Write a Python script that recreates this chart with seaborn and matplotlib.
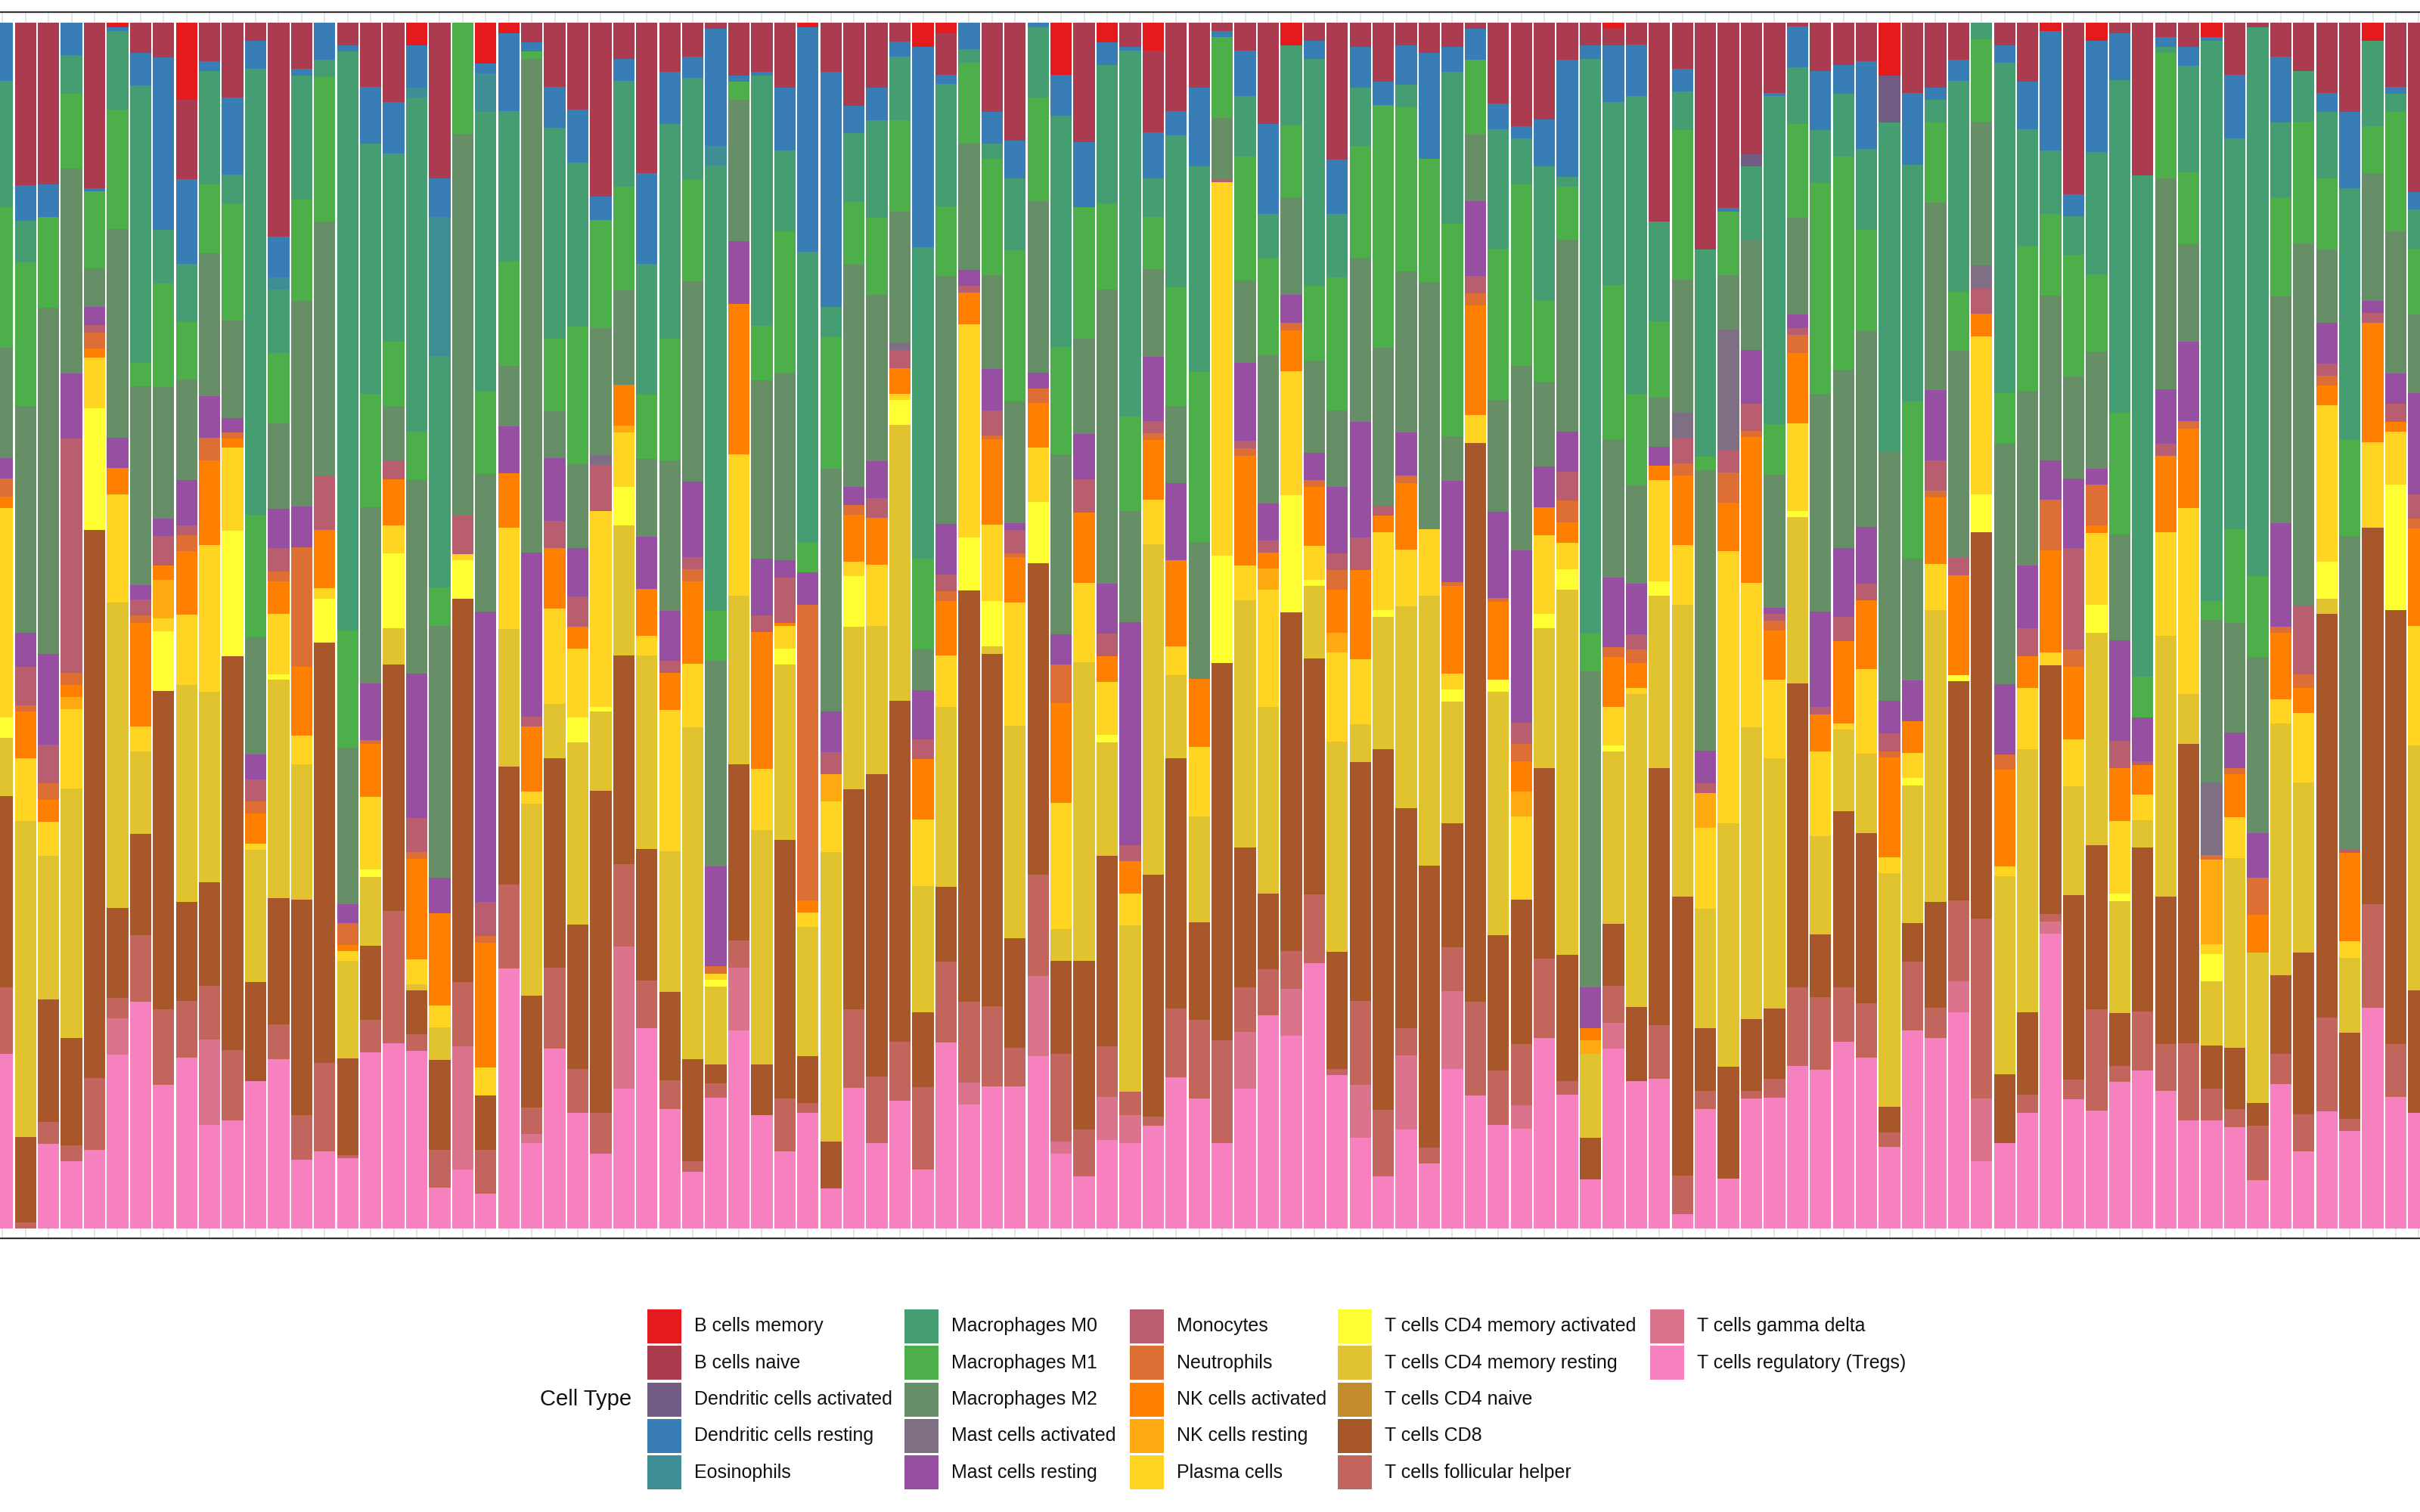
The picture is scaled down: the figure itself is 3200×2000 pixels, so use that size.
import numpy as np
import pandas as pd
import matplotlib
matplotlib.use("Agg")
import matplotlib.pyplot as plt
from matplotlib.patches import Rectangle
import seaborn as sns

# ---------------- data (percent per sample) ----------------
cell_types = [
    "B cells memory", "B cells naive", "Dendritic cells activated",
    "Dendritic cells resting", "Eosinophils", "Macrophages M0",
    "Macrophages M1", "Macrophages M2", "Mast cells activated",
    "Mast cells resting", "Monocytes", "Neutrophils", "NK cells activated",
    "NK cells resting", "Plasma cells", "T cells CD4 memory activated",
    "T cells CD4 memory resting", "T cells CD4 naive", "T cells CD8",
    "T cells follicular helper", "T cells gamma delta",
    "T cells regulatory (Tregs)",
]

b_cells_memory = [
    0, 0, 0, 0, 0, 0.4, 0, 0, 6.4, 0,
    0, 0, 0, 0, 0, 0, 0, 0, 1.9, 0,
    0, 3.4, 0.9, 0, 0, 0, 0, 0, 0, 0,
    0, 0, 0, 0, 0, 0.4, 0, 0, 0, 0,
    2.0, 0.9, 0, 0, 0, 0, 4.3, 0, 1.6, 0,
    2.3, 0, 0, 0, 0, 0, 1.9, 0, 0, 0,
    0, 0, 0, 0, 0, 0, 0, 0, 0, 0,
    0.5, 0, 0, 0, 0, 0, 0, 0, 0, 0,
    0, 0, 4.4, 0, 0, 0, 0, 0, 0, 0.7,
    0, 1.5, 0, 0, 0, 0, 1.2, 0, 0, 0,
    0, 0, 0, 1.5, 0, 0]
b_cells_naive = [
    0, 13.5, 13.4, 0, 13.7, 0, 2.5, 2.9, 6.6, 3.2,
    6.2, 1.5, 17.7, 3.8, 0, 1.9, 5.3, 6.6, 0, 12.9,
    0, 0, 0, 1.6, 5.3, 7.2, 14.4, 3.0, 12.5, 4.1,
    2.8, 0.5, 4.4, 4.1, 5.4, 0, 4.1, 6.9, 5.4, 1.6,
    0, 3.4, 0, 7.4, 9.8, 0, 0, 9.9, 0, 2.0,
    6.8, 7.3, 5.4, 0.7, 2.3, 8.4, 0, 1.5, 11.3, 2.0,
    4.9, 1.9, 2.5, 2.0, 0.5, 6.7, 8.6, 8.0, 3.1, 1.9,
    1.4, 1.8, 16.5, 3.8, 18.8, 15.3, 10.9, 5.8, 0.3, 4.0,
    3.5, 3.2, 0, 5.8, 5.4, 3.1, 0, 1.9, 4.9, 0,
    14.2, 0, 0.9, 12.7, 1.2, 2.0, 0, 4.3, 0.4, 2.8,
    4.0, 5.8, 7.4, 0, 5.3, 14.0]
dendritic_activated = [
    0, 0, 0, 0, 0, 0, 0, 0, 0, 0,
    0, 0, 0, 0, 0, 0, 0, 0, 0, 0,
    0, 0, 0, 0, 0, 0, 0, 0, 0, 0,
    0, 0, 0, 0, 0, 0, 0, 0, 0, 0,
    0, 0, 0, 0, 0, 0, 0, 0, 0, 0,
    0, 0, 0, 0, 0, 0, 0, 0, 0, 0,
    0, 0, 0, 0, 0, 0, 0, 0, 0, 0,
    0, 0, 0, 0, 0, 0, 1.0, 0, 0, 0,
    0, 0, 3.9, 0, 0, 0, 0, 0, 0, 0,
    0, 0, 0, 0, 0, 0, 0, 0, 0, 0,
    0, 0, 0, 0, 0, 0]
dendritic_resting = [
    4.8, 2.9, 2.7, 2.7, 0.3, 0.3, 2.7, 14.3, 7.0, 0.8,
    6.4, 2.3, 3.4, 0.6, 3.1, 0.5, 4.7, 4.2, 3.5, 3.2,
    0, 0.8, 6.4, 0.8, 3.4, 4.4, 1.9, 1.8, 7.5, 4.3,
    1.8, 9.7, 0.5, 0.3, 5.2, 18.6, 19.5, 2.3, 2.7, 1.2,
    16.6, 0.8, 2.2, 2.6, 3.1, 0.4, 3.4, 5.4, 1.9, 0.3,
    3.8, 2.0, 6.5, 0.5, 3.8, 7.5, 0, 1.5, 4.5, 3.4,
    1.9, 3.2, 8.8, 2.1, 2.6, 2.1, 1.0, 3.9, 9.7, 1.1,
    4.7, 4.3, 0, 1.9, 0, 0.3, 0, 0.3, 3.4, 4.9,
    2.4, 7.3, 0, 6.0, 1.0, 1.7, 0, 1.4, 3.9, 9.9,
    1.8, 9.2, 3.9, 0, 0.8, 1.6, 0.3, 5.3, 0, 5.5,
    0, 1.6, 6.3, 0, 0.6, 1.5]
eosinophils = [
    0, 0, 0, 0, 0, 0, 0, 0, 0, 0,
    0, 0, 1.0, 0, 0, 0, 0, 0, 0.8, 11.6,
    0, 3.2, 0, 0, 0, 0, 0, 0, 0, 0,
    0, 1.6, 0, 0, 0, 0, 0, 0, 0, 0,
    0, 0, 0, 0, 0, 0, 0, 0, 0, 0,
    0, 0, 0, 0, 0, 0, 0, 0, 0, 0,
    0, 0, 0, 0, 0, 0, 0, 0, 0, 0,
    0, 0, 0, 0, 0, 0, 0, 0, 0, 0,
    0, 0, 0, 0, 0, 0, 0, 0, 0, 0,
    0, 0, 0, 0, 0, 0, 0, 0, 0, 0,
    0, 0, 0, 0, 0, 0]
macrophages_m0 = [
    10.5, 3.5, 0, 3.2, 0, 6.5, 23.0, 4.4, 4.8, 9.4,
    2.4, 37.0, 5.3, 10.3, 1.4, 48.0, 20.7, 15.6, 27.7, 19.2,
    0, 23.1, 12.5, 0, 17.5, 13.6, 0, 8.8, 10.9, 17.8,
    8.4, 36.9, 0, 20.7, 6.7, 24.1, 2.5, 5.7, 8.1, 5.3,
    25.8, 10.1, 1.1, 1.3, 6.0, 5.8, 19.2, 0, 11.5, 30.3,
    3.2, 12.6, 17.1, 0, 5.0, 3.6, 6.6, 18.8, 5.3, 4.8,
    0, 1.9, 0, 12.6, 0, 9.9, 3.8, 11.1, 0.8, 47.6,
    15.1, 24.7, 8.3, 3.2, 17.2, 0, 6.2, 27.1, 4.7, 4.4,
    5.2, 6.7, 27.3, 19.6, 1.9, 17.5, 1.4, 27.4, 9.7, 5.2,
    3.2, 10.2, 27.6, 41.6, 0.5, 8.8, 46.5, 32.4, 45.5, 6.2,
    4.2, 5.5, 20.8, 7.1, 1.5, 3.2]
macrophages_m1 = [
    11.7, 11.9, 7.5, 6.2, 6.4, 9.9, 1.9, 8.6, 4.8, 5.7,
    9.7, 10.1, 5.8, 8.4, 12.0, 9.7, 9.4, 5.3, 4.0, 3.2,
    9.2, 6.8, 8.6, 0.6, 6.0, 11.4, 9.0, 8.6, 5.3, 10.1,
    8.4, 4.1, 1.5, 4.5, 11.8, 2.5, 10.9, 5.2, 6.4, 7.6,
    7.5, 5.8, 6.7, 9.6, 12.5, 8.6, 8.9, 10.9, 7.1, 7.8,
    4.3, 9.8, 14.1, 6.7, 10.3, 8.1, 6.0, 6.2, 11.0, 9.3,
    20.1, 13.6, 10.2, 17.6, 6.2, 12.5, 15.1, 6.8, 4.4, 3.2,
    12.8, 7.6, 6.3, 12.4, 1.1, 5.3, 0, 4.2, 7.8, 17.5,
    17.7, 8.4, 0, 13.0, 6.6, 4.9, 6.8, 4.2, 12.0, 6.8,
    10.1, 6.4, 10.1, 3.4, 10.4, 6.0, 1.6, 7.8, 6.7, 8.2,
    10.1, 5.9, 8.0, 3.9, 9.9, 5.5]
macrophages_m2 = [
    9.1, 18.8, 28.7, 17.0, 3.2, 17.3, 16.5, 10.9, 8.3, 11.9,
    8.1, 9.7, 7.1, 17.0, 21.1, 13.0, 14.6, 4.5, 16.0, 20.9,
    31.6, 11.4, 5.0, 40.9, 3.9, 7.0, 10.5, 7.8, 6.5, 12.5,
    16.6, 17.0, 11.7, 14.8, 15.5, 0, 20.1, 18.5, 13.8, 10.9,
    3.4, 20.5, 10.5, 7.8, 10.1, 14.2, 14.9, 7.9, 24.4, 9.2,
    7.3, 6.4, 11.4, 5.1, 6.8, 12.3, 8.1, 7.7, 6.3, 13.6,
    13.1, 13.3, 20.5, 3.7, 5.5, 9.3, 15.3, 7.0, 15.9, 26.2,
    11.4, 8.1, 4.1, 11.0, 23.3, 4.5, 9.1, 11.0, 8.0, 18.1,
    14.8, 16.2, 20.7, 10.1, 15.6, 17.2, 11.9, 19.9, 14.5, 13.6,
    8.4, 9.7, 8.8, 0, 17.5, 8.1, 13.5, 9.1, 14.6, 18.8,
    30.1, 6.1, 26.0, 10.6, 11.8, 6.5]
mast_activated = [
    0, 0, 0, 0, 0, 0, 0, 0, 0, 0,
    0, 0, 0, 0, 0, 0, 0, 0, 0, 0,
    0, 0, 0, 0, 0, 0, 0.8, 0, 0, 0,
    0, 0, 0, 0, 0, 0, 0, 0, 0, 0.6,
    0, 0, 0, 0, 0, 0, 0, 0, 0, 0,
    0, 0, 0, 0, 0, 0, 0, 0, 0, 0,
    0, 0, 0, 0, 0, 0, 0, 0, 0, 0,
    0, 0, 0, 2.1, 0, 9.9, 0, 0, 0, 0,
    0, 0, 0, 0, 0, 0, 1.9, 0, 0, 0,
    0, 0, 0, 0, 0, 0, 6.0, 0, 0, 0,
    0, 0, 0, 0, 0, 0]
mast_resting = [
    1.75, 2.8, 7.5, 5.4, 1.5, 2.5, 1.2, 1.5, 3.8, 3.4,
    1.2, 2.1, 3.2, 3.4, 0, 1.6, 4.7, 0, 12.0, 2.9,
    0, 24.0, 3.9, 13.6, 5.2, 4.0, 0, 0, 4.3, 4.1,
    6.3, 8.3, 5.2, 4.7, 1.4, 2.7, 3.4, 1.5, 3.1, 0,
    4.1, 4.2, 1.3, 3.4, 0.6, 1.3, 2.5, 3.7, 4.1, 18.5,
    5.3, 6.4, 0, 0, 6.5, 3.1, 2.3, 2.2, 5.5, 9.6,
    0, 3.6, 0, 8.4, 6.2, 7.1, 14.3, 3.4, 3.3, 3.4,
    5.8, 4.2, 1.6, 0, 2.7, 0, 4.4, 0.5, 1.1, 7.9,
    5.7, 4.7, 2.7, 3.4, 5.8, 0, 0, 5.8, 5.2, 3.3,
    5.8, 1.3, 8.3, 3.6, 4.5, 6.6, 0, 2.9, 3.7, 8.6,
    0, 3.4, 0, 1.0, 2.5, 8.4]
monocytes = [
    0, 3.2, 3.2, 19.5, 0.6, 0, 1.3, 2.4, 0.8, 0,
    0, 1.8, 2.0, 0, 4.5, 0, 0, 1.6, 2.8, 0,
    3.2, 2.8, 0, 0.8, 2.3, 2.5, 3.8, 0, 0, 1.0,
    1.0, 0, 0, 1.4, 3.8, 0, 1.8, 0, 1.6, 1.5,
    1.6, 1.4, 0.6, 2.1, 1.9, 0, 0, 2.8, 1.9, 1.3,
    1.0, 0, 0, 0.2, 0.6, 1.0, 0, 0, 1.4, 2.7,
    0.8, 0, 0, 0, 1.4, 0, 1.8, 0, 2.4, 0,
    0, 1.3, 0, 2.1, 0.8, 1.9, 2.3, 0.6, 0.6, 0.6,
    2.0, 1.4, 1.5, 0, 2.5, 1.4, 2.1, 0, 2.3, 0,
    8.4, 0, 2.3, 0.3, 1.0, 0, 0, 0, 0, 0,
    5.7, 1.0, 0.3, 0.8, 1.5, 2.0]
neutrophils = [
    1.5, 0.5, 1.4, 1.0, 1.3, 0, 0.6, 0, 1.3, 1.9,
    0.5, 1.0, 0.8, 9.9, 0, 1.8, 0.3, 0, 0.6, 0,
    0, 0.6, 0, 0, 0, 0, 0, 0, 0, 0,
    1.0, 0.6, 0, 0, 0, 24.5, 0, 0.8, 0, 0,
    0, 0.8, 0, 0.3, 0.3, 1.2, 3.2, 0, 0, 0,
    0.6, 0, 0, 0, 0.6, 0, 0.6, 0.6, 1.6, 0,
    0, 0.6, 0, 0.3, 1.0, 0.3, 1.4, 0, 1.8, 0,
    0.8, 1.1, 0, 1.0, 0, 2.5, 0.5, 0.8, 1.5, 0,
    0, 0, 0.5, 0, 0.6, 0, 0, 1.3, 0, 4.2,
    1.4, 3.4, 0, 0, 0, 0.6, 0.4, 0.5, 3.1, 0.5,
    1.1, 0.8, 0, 0, 0, 0.8]
nk_activated = [
    0.9, 3.9, 1.8, 1.0, 0.8, 2.2, 8.6, 1.2, 5.3, 7.0,
    0.8, 2.5, 2.7, 5.7, 4.8, 0.5, 4.4, 3.8, 8.3, 7.7,
    0, 10.3, 4.5, 5.4, 5.0, 1.8, 0, 3.4, 3.9, 3.1,
    6.8, 0, 12.5, 11.3, 0.2, 1.0, 0, 3.9, 3.9, 2.1,
    5.0, 4.5, 2.6, 7.1, 3.8, 3.7, 8.3, 5.8, 2.1, 2.7,
    4.9, 7.1, 5.6, 0, 9.1, 1.3, 3.4, 4.9, 3.6, 7.4,
    1.4, 5.5, 0, 7.3, 9.1, 6.5, 2.5, 2.3, 1.7, 1.0,
    4.1, 2.1, 1.2, 5.8, 0, 4.0, 12.1, 4.1, 5.8, 3.1,
    6.8, 5.7, 8.3, 2.6, 5.5, 8.3, 1.9, 8.0, 2.6, 8.4,
    6.0, 0.6, 4.4, 2.5, 6.3, 6.6, 0, 3.6, 3.1, 5.5,
    2.1, 1.6, 7.3, 9.9, 0.8, 8.1]
nk_resting = [
    0, 0, 0, 1.0, 0, 0, 0, 3.2, 0, 0,
    0, 0, 0, 0, 0, 0, 0, 0, 0, 0,
    0, 0, 0, 0, 0, 0, 0, 0.6, 0, 0,
    0, 0, 0, 0, 0, 0, 2.3, 0, 0, 0,
    0, 0, 0, 0, 0, 0, 0, 0, 0, 0,
    0, 0, 0, 0, 0, 1.8, 0, 0, 1.6, 0,
    0, 0, 0, 0, 0, 0, 2.1, 0, 0, 1.1,
    0, 0, 0, 0, 2.9, 0, 0, 0, 0, 0,
    0, 0, 0, 0, 0, 0, 0, 0, 0, 0,
    0, 0, 0, 0, 0, 0, 7.0, 0, 0, 0,
    0, 0, 0, 0, 0, 0]
plasma_cells = [
    17.4, 5.2, 2.8, 6.6, 4.2, 9.0, 2.1, 1.1, 5.8, 12.2,
    6.9, 0.5, 5.0, 2.4, 0.9, 0.8, 6.0, 2.3, 2.1, 1.8,
    0.5, 2.3, 8.4, 1.0, 7.9, 5.7, 16.2, 4.5, 1.6, 11.7,
    5.3, 0.5, 11.7, 5.1, 1.9, 1.2, 4.2, 1.2, 5.1, 0.5,
    5.5, 4.3, 17.7, 6.3, 10.2, 4.5, 10.5, 6.6, 4.4, 2.6,
    3.7, 2.4, 5.8, 31.0, 2.9, 9.7, 10.3, 2.8, 7.4, 5.4,
    6.4, 4.7, 5.5, 1.3, 2.3, 0, 6.9, 6.5, 2.2, 0,
    3.2, 0.5, 8.4, 4.9, 6.7, 22.5, 12.0, 6.5, 7.3, 7.0,
    0.5, 7.0, 1.3, 2.1, 3.8, 0, 13.1, 0.8, 5.1, 1.1,
    3.9, 6.0, 6.0, 2.1, 8.6, 15.4, 0.8, 3.4, 0, 2.0,
    5.8, 13.0, 1.4, 7.1, 4.4, 9.9]
cd4_memory_activated = [
    1.7, 0, 0, 0, 10.1, 0, 0, 4.9, 0, 0,
    10.4, 0, 0.4, 0, 3.6, 0, 0.6, 6.2, 0, 0,
    3.2, 0, 0, 0, 0, 2.1, 0.4, 3.2, 0, 0,
    0, 0.6, 0, 0, 1.3, 0, 0, 4.2, 0, 2.1,
    0, 0, 4.4, 3.8, 0, 5.1, 0, 0, 0.6, 0,
    0, 0, 0, 8.9, 0, 0, 9.7, 0.5, 0, 0,
    0.6, 0, 0, 1.0, 0, 1.0, 0, 1.2, 1.7, 0,
    0.5, 0, 1.2, 0, 0, 0, 0, 0, 0.5, 0,
    0, 0, 0, 0.6, 0, 0.5, 3.1, 0, 0, 0,
    0, 2.3, 0.6, 0, 0, 0, 2.3, 0, 0, 0,
    0, 3.1, 0, 0, 10.4, 0]
cd4_memory_resting = [
    4.8, 26.2, 11.9, 20.7, 0, 25.3, 6.8, 0, 18.0, 15.8,
    0, 11.0, 18.1, 11.2, 0, 8.1, 5.7, 3.0, 0.5, 2.7,
    0, 0, 11.4, 15.9, 4.5, 15.1, 6.6, 10.8, 16.1, 11.7,
    27.5, 6.4, 14.0, 19.4, 14.6, 10.7, 24.0, 13.5, 12.3, 22.9,
    10.5, 14.9, 0, 0.6, 17.6, 0, 2.6, 24.7, 9.4, 13.8,
    27.4, 6.9, 8.8, 0, 20.5, 15.5, 0, 6.0, 17.4, 3.1,
    10.9, 16.7, 22.4, 10.1, 0, 20.1, 0, 11.6, 30.2, 7.0,
    14.3, 25.9, 14.3, 24.2, 9.9, 20.1, 24.2, 20.7, 13.8, 8.2,
    6.8, 6.6, 19.4, 11.4, 24.2, 0, 0, 16.4, 21.8, 0,
    9.0, 17.6, 9.3, 2.3, 21.6, 4.2, 5.3, 15.7, 12.5, 20.9,
    14.1, 1.2, 6.2, 0, 0, 20.3]
cd4_naive = [
    0, 0, 0, 0, 0, 0, 0, 0, 0, 0,
    0, 0, 0, 0, 0, 0, 0, 0, 0, 0,
    0, 0, 0, 0, 0, 0, 0, 0, 0, 0,
    0, 0, 0, 0, 0, 0, 0, 0, 0, 0,
    0, 0, 0, 0, 0, 0, 0, 0, 0, 0,
    0, 0, 0, 0, 0, 0, 0, 0, 0, 0,
    0, 0, 0, 0, 0, 0, 0, 0, 0, 0,
    0, 0, 0, 0, 0, 0, 0, 0, 0, 0,
    0, 0, 0, 0, 0, 0, 0, 0, 0, 0,
    0, 0, 0, 0, 0, 0, 0, 0, 0, 0,
    0, 0, 0, 0, 0, 0]
cd8 = [
    15.9, 7.1, 10.2, 8.9, 45.4, 7.5, 8.4, 26.4, 8.2, 8.6,
    32.7, 8.2, 10.5, 17.9, 34.9, 8.0, 6.1, 20.4, 3.6, 7.5,
    31.7, 4.5, 9.7, 9.3, 17.4, 12.0, 26.6, 17.3, 10.9, 7.3,
    8.4, 1.6, 14.6, 4.2, 21.4, 3.9, 3.9, 18.3, 25.1, 28.3,
    6.2, 6.2, 34.1, 29.2, 9.1, 25.8, 7.7, 14.0, 15.8, 0,
    20.0, 20.7, 8.1, 31.3, 11.6, 6.3, 28.1, 19.6, 9.7, 19.8,
    29.9, 18.2, 23.4, 10.3, 46.3, 11.2, 12.0, 15.8, 10.5, 3.4,
    5.1, 6.2, 21.3, 23.1, 5.2, 9.3, 6.0, 5.8, 25.2, 5.2,
    14.6, 14.1, 2.1, 3.2, 8.8, 18.2, 32.0, 5.7, 6.8, 20.6,
    15.3, 13.6, 4.4, 13.6, 12.2, 24.8, 3.6, 5.1, 1.9, 6.5,
    13.4, 33.5, 7.1, 31.2, 36.0, 10.1]
follicular_helper = [
    5.5, 0.5, 1.8, 1.3, 6.0, 1.7, 5.5, 6.3, 4.7, 4.4,
    5.8, 0, 2.9, 3.7, 7.3, 0.3, 2.7, 11.0, 1.4, 3.1,
    5.3, 3.6, 7.0, 2.2, 6.7, 3.6, 3.4, 6.8, 4.0, 2.4,
    0.9, 1.2, 2.3, 0, 4.4, 0.8, 0, 6.5, 5.5, 4.9,
    6.8, 6.7, 6.7, 6.6, 3.2, 8.4, 7.3, 3.9, 4.2, 1.9,
    0.8, 5.7, 6.5, 8.5, 3.7, 3.8, 3.1, 5.7, 0.5, 7.0,
    5.5, 2.3, 1.3, 3.6, 7.8, 4.5, 5.1, 6.6, 1.1, 0,
    3.1, 0, 4.5, 3.2, 1.5, 0, 0.6, 1.6, 6.5, 6.0,
    4.5, 4.5, 1.2, 5.7, 2.5, 6.7, 14.9, 0, 1.5, 0.6,
    1.6, 8.4, 1.3, 4.9, 3.9, 6.4, 2.6, 1.5, 4.5, 2.5,
    3.1, 7.8, 1.0, 8.6, 4.4, 0]
gamma_delta = [
    0, 0, 0, 0, 0, 3.0, 0, 0, 0, 7.1,
    0, 0, 0, 0, 0, 0, 0, 0, 0, 0,
    10.2, 0, 0, 0.7, 0, 0, 0, 11.8, 0, 0,
    0, 0, 5.2, 0, 0, 0, 0, 0, 0, 0,
    0, 0, 1.8, 0, 0, 6.6, 1.0, 0, 3.6, 2.3,
    0, 0, 0, 0, 4.7, 0, 3.9, 0, 0, 4.4,
    0, 6.1, 0, 6.5, 0, 0, 1.9, 0, 0, 0,
    2.1, 0, 0, 0, 0, 0, 0, 0, 0, 0,
    0, 0, 0, 0, 0, 2.6, 5.2, 0, 0, 1.0,
    0, 0, 0, 0, 0, 0, 0, 0, 0, 0,
    0, 0, 0, 0, 0, 0]
tregs = [
    14.5, 0, 7.0, 5.6, 6.5, 14.4, 18.8, 11.9, 14.2, 8.6,
    9.0, 12.2, 14.0, 5.7, 6.4, 5.8, 14.6, 15.3, 14.7, 3.4,
    4.9, 2.9, 21.5, 7.1, 14.9, 9.6, 6.2, 11.6, 16.6, 9.9,
    4.7, 10.8, 16.4, 9.4, 6.4, 9.6, 3.3, 11.7, 7.1, 10.6,
    4.9, 15.4, 10.3, 11.8, 11.8, 14.3, 6.2, 4.3, 7.3, 7.1,
    8.5, 12.5, 10.8, 7.1, 11.6, 17.7, 16.0, 22.0, 12.7, 7.5,
    4.3, 8.2, 5.4, 13.2, 11.0, 8.6, 8.3, 15.8, 11.1, 4.1,
    14.9, 12.2, 12.4, 1.2, 9.9, 4.1, 10.8, 10.8, 13.5, 13.2,
    15.5, 14.2, 6.8, 16.4, 15.8, 17.9, 5.6, 7.1, 9.6, 24.4,
    10.7, 9.8, 12.2, 13.1, 11.4, 9.0, 9.0, 8.4, 4.0, 12.0,
    6.4, 9.7, 8.1, 18.3, 10.9, 9.6]

series = [b_cells_memory, b_cells_naive, dendritic_activated, dendritic_resting,
          eosinophils, macrophages_m0, macrophages_m1, macrophages_m2,
          mast_activated, mast_resting, monocytes, neutrophils, nk_activated,
          nk_resting, plasma_cells, cd4_memory_activated, cd4_memory_resting,
          cd4_naive, cd8, follicular_helper, gamma_delta, tregs]

n_samples = len(tregs)
wide = pd.DataFrame({ct: vals for ct, vals in zip(cell_types, series)})
wide["sample"] = np.arange(n_samples)
long = wide.melt(id_vars="sample", var_name="cell_type", value_name="fraction")

# ---------------- style ----------------
sns.set_theme(style="white")
plt.rcParams["font.family"] = ["Liberation Sans", "DejaVu Sans"]

set1 = ["#E41A1C", "#377EB8", "#4DAF4A", "#984EA3",
        "#FF7F00", "#FFFF33", "#A65628", "#F781BF"]
palette = sns.blend_palette(set1, n_colors=len(cell_types))
pal_map = dict(zip(cell_types, palette))

W, H = 3200, 2000
fig = plt.figure(figsize=(W / 100, H / 100), dpi=100)
fig.patch.set_facecolor("white")

ax_top_px, ax_bot_px = 16, 1638
ax = fig.add_axes([0, 1 - ax_bot_px / H, 1, (ax_bot_px - ax_top_px) / H])

sns.histplot(data=long, x="sample", weights="fraction", hue="cell_type",
             hue_order=cell_types, palette=pal_map, multiple="fill",
             discrete=True, shrink=0.93, linewidth=0, edgecolor="none",
             alpha=1, legend=False, ax=ax)

# pixel geometry of the reference panel
first_c, pitch = 3.3, 30.43
ax.set_xlim(-first_c / pitch, (W - first_c) / pitch)
bar_top_px, bar_bot_px = 30, 1625
unit = bar_bot_px - bar_top_px
ax.set_ylim(-(ax_bot_px - bar_bot_px) / unit, 1 + (bar_top_px - ax_top_px) / unit)

ax.set_xticks(np.arange(n_samples))
ax.set_yticks([])
ax.tick_params(axis="both", length=0, labelbottom=False, labelleft=False)
ax.set_xlabel("")
ax.set_ylabel("")
ax.set_axisbelow(True)
ax.xaxis.grid(True, color="#e2e2e2", linewidth=1.2)
ax.set_facecolor("white")
for side in ("left", "right"):
    ax.spines[side].set_visible(False)
for side in ("top", "bottom"):
    ax.spines[side].set_visible(True)
    ax.spines[side].set_color("#333333")
    ax.spines[side].set_linewidth(1.6)

# ---------------- legend (ggplot-style, title on the left) ----------------
key = 45
row_tops = [1732 + 48.3 * r for r in range(5)]
col_lefts = [856, 1196, 1494, 1769, 2182]
for j, ct in enumerate(cell_types):
    c, r = divmod(j, 5)
    x0, y0 = col_lefts[c], row_tops[r]
    fig.add_artist(Rectangle((x0 / W, 1 - (y0 + key) / H), key / W, key / H,
                             transform=fig.transFigure, facecolor=pal_map[ct],
                             edgecolor="none"))
    fig.text((x0 + key + 17) / W, 1 - (y0 + key / 2) / H, ct,
             fontsize=18, va="center", ha="left", color="#111111")
fig.text(714 / W, 1 - 1851 / H, "Cell Type", fontsize=21,
         va="center", ha="left", color="#111111")

fig.savefig("out.png", dpi=100, facecolor="white")
